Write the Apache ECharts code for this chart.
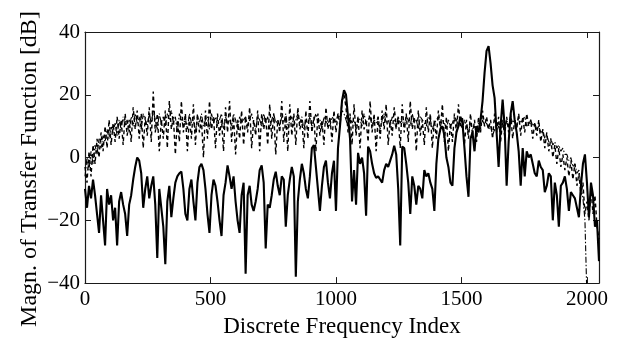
<!DOCTYPE html>
<html><head><meta charset="utf-8">
<script src="https://cdn.jsdelivr.net/npm/echarts@6/dist/echarts.min.js"></script>
<style>html,body{margin:0;padding:0;background:#fff}#c{width:635px;height:343px}</style>
</head><body><div id="c"></div>
<script>
// sample spacing along the discrete frequency index
const STEP = 8;
const xMax = 2048;
const xTicks = [0, 500, 1000, 1500, 2000];
const yTicks = [-40, -20, 0, 20, 40];
const xTitle = 'Discrete Frequency Index';
const yTitle = 'Magn. of Transfer Function [dB]';

// solid curve (dB), one value every STEP indices
const solidDB = [
 -10,-16,-9,-13,-7,-12,-18,-24,-12,-20,-28,-10,-15,-12,-20,-16,
 -28,-14,-11,-15,-18,-25,-15,-12,-7,-3,0,-1,-5,-16,-10,-6,
 -13,-9,-6,-15,-32,-10,-16,-22,-34,-14,-9,-19,-13,-8,-6,-5,
 -4.5,-10,-18,-20,-10,-7,-14,-20,-8,-3,-2,-4,-10,-18,-24,-12,
 -7,-9,-14,-20,-25,-12,-8,-2.5,-6,-10,-6,-14,-20,-24,-12,-8,
 -37,-12,-9,-15,-17,-14,-10,-4,-2.5,-8,-29,-15,-16,-12,-7,-4.5,
 -9,-12,-6,-7,-22,-12,-7,-3,-6,-38,-14,-7,-2,-5,-10,-13,
 -6,3,4,-3,-10,-17,-9,-3,-1,-8,-13,-5,-1,-17,3,10,
 18,21.5,20,13,6,-14,-4,-15,1.5,-2,0,-5,-18.5,3.5,2,-2,
 -5,-6.5,-6,-7,-8,-4,-2,-3,-1,1,3.8,1,-10,-28,3.5,3,
 -2,-8,-18,-6,-9,-15,-9,-10,-13,-4,-6,-5,-8,-10,-17,-2,
 6,9,10,7,0,-3,-8,-9,3,8,10,13,11,3,-6,-12.5,
 6,8,2,10,8,12,18,27,34,35.5,30,23,19,8,-3,10,
 18.5,10,-9,5,14,18,12,8,2,-9,3,-6,2,0,1,-2,
 -5,-6,-1,-3,-4,-11,-9,-5,-6,-20,-8,-12,-22,-9,-8,-6,
 -10,-17,-11,-12,-13,-16,-19,-9,-2,1,-8,-19,-8,-12,-22,-20,
 -33
];

// dashed curve (dB)
const dashedDB = [
 -3,-8,2,-6,4,-2,6,0,8,2,10,3,12,4,11,5,
 13,6,12,4,14,7,12,5,16,9,15,6,14,3,13,7,
 16,5,21,8,14,2,12,6,15,3,18,9,13,1,12,5,
 18,8,14,2,13,6,17,4,14,8,12,0,15,6,18,9,
 13,3,14,7,12,2,16,8,18,5,13,1,12,6,15,4,
 13,8,16,3,12,7,15,2,14,9,13,4,17,6,14,1,
 12,8,18,5,13,2,17,7,14,4,16,9,12,3,15,6,
 18,8,13,2,14,7,12,4,16,9,13,5,15,8,14,10,
 18,20,16,8,14,4,17,7,13,3,15,9,12,5,18,8,
 14,2,13,6,15,9,17,4,12,7,16,10,13,3,17,8,
 14,5,18,9,13,2,15,7,12,4,16,8,14,3,12,6,
 15,9,17,5,13,2,11,5,14,8,17,10,13,4,12,6,
 14,7,12,5,13,8,15,10,13,9,12,6,14,8,13,5,
 12,7,13,8,14,6,12,9,14,7,13,8,14,10,12,6,
 11,7,12,5,9,3,8,2,6,0,4,-2,3,-3,1,-4,
 0,-6,-1,-7,-2,-9,-5,-12,-8,-18,-14,-20,-10,-18,-12,-22,
 -26
];

// dash-dot curve (dB); null = below plotted range
const dashDotDB = [
 -6,0,-4,2,-2,4,1,6,3,7,5,9,6,10,8,11,
 7,12,9,13,10,12,8,13,10,14,11,13,9,14,12,10,
 14,11,15,12,9,14,11,13,10,14,12,15,11,13,8,14,
 12,10,13,9,14,11,12,8,13,11,14,10,12,13,9,14,
 11,13,10,12,14,9,13,11,12,10,14,12,9,13,11,12,
 13,10,12,14,11,9,13,12,10,14,11,13,9,12,14,11,
 12,10,13,11,14,9,12,13,10,12,14,11,13,9,12,11,
 13,10,12,14,11,12,9,13,11,12,10,13,12,11,14,13,
 15,14,12,10,13,11,12,9,13,12,10,14,11,12,13,10,
 12,11,13,9,12,14,11,12,10,13,12,9,13,11,12,10,
 13,12,10,14,11,12,9,13,12,11,10,13,12,9,11,12,
 13,10,12,11,9,12,10,11,13,12,10,11,9,12,10,8,
 11,9,10,8,11,9,12,10,11,9,10,7,9,8,10,9,
 11,9,12,10,13,11,12,10,13,11,12,13,10,11,12,10,
 11,9,10,8,9,6,7,5,6,4,5,3,4,2,3,1,
 1,-1,0,-3,-2,-5,-4,-9,-13,-20,-45,null,null,null,null,null,
 null
];

function pairs(arr) { return arr.map((v, i) => [i * STEP, v]); }
function num(v) { return String(v).replace('-', '\u2212'); }

const font = 'Liberation Serif';
const frame = { show: true, onZero: false, lineStyle: { color: '#1a1a1a', width: 1.2 } };
const tick = { show: true, inside: true, length: 6, lineStyle: { color: '#1a1a1a', width: 1 } };
const lbl = { fontFamily: font, fontSize: 21, color: '#000', formatter: num };

const chart = echarts.init(document.getElementById('c'), null, { renderer: 'canvas' });
chart.setOption({
  animation: false,
  backgroundColor: '#fff',
  grid: { left: 85, right: 36, top: 32, bottom: 56, containLabel: false },
  xAxis: [
    { type: 'value', min: xTicks[0], max: xMax, interval: 500, position: 'bottom',
      axisLine: frame, axisTick: tick, splitLine: { show: false },
      axisLabel: Object.assign({ margin: 6, showMaxLabel: false }, lbl),
      name: xTitle, nameLocation: 'middle', nameGap: 19,
      nameTextStyle: { fontFamily: font, fontSize: 23, color: '#000' } },
    { type: 'value', min: xTicks[0], max: xMax, interval: 500, position: 'top',
      axisLine: frame, axisTick: tick, axisLabel: { show: false }, splitLine: { show: false } }
  ],
  yAxis: [
    { type: 'value', min: yTicks[0], max: yTicks[yTicks.length - 1], interval: 20, position: 'left',
      axisLine: frame, axisTick: tick, splitLine: { show: false },
      axisLabel: Object.assign({ margin: 5 }, lbl) },
    { type: 'value', min: yTicks[0], max: yTicks[yTicks.length - 1], interval: 20, position: 'right',
      axisLine: frame, axisTick: tick, axisLabel: { show: false }, splitLine: { show: false } }
  ],
  graphic: [
    { type: 'text', x: 30, y: 169, rotation: Math.PI / 2,
      style: { text: yTitle, fontFamily: font, fontSize: 24, fill: '#000',
               textAlign: 'center', textVerticalAlign: 'middle' } }
  ],
  series: [
    { type: 'line', data: pairs(dashDotDB), symbol: 'none', clip: true, connectNulls: false,
      lineStyle: { color: '#000', width: 1.1, type: [6, 2, 1.5, 2] }, z: 2 },
    { type: 'line', data: pairs(dashedDB), symbol: 'none', clip: true,
      lineStyle: { color: '#000', width: 1.4, type: [4, 3] }, z: 3 },
    { type: 'line', data: pairs(solidDB), symbol: 'none', clip: true,
      lineStyle: { color: '#000', width: 2.1 }, z: 4 }
  ]
});
</script>
</body></html>
